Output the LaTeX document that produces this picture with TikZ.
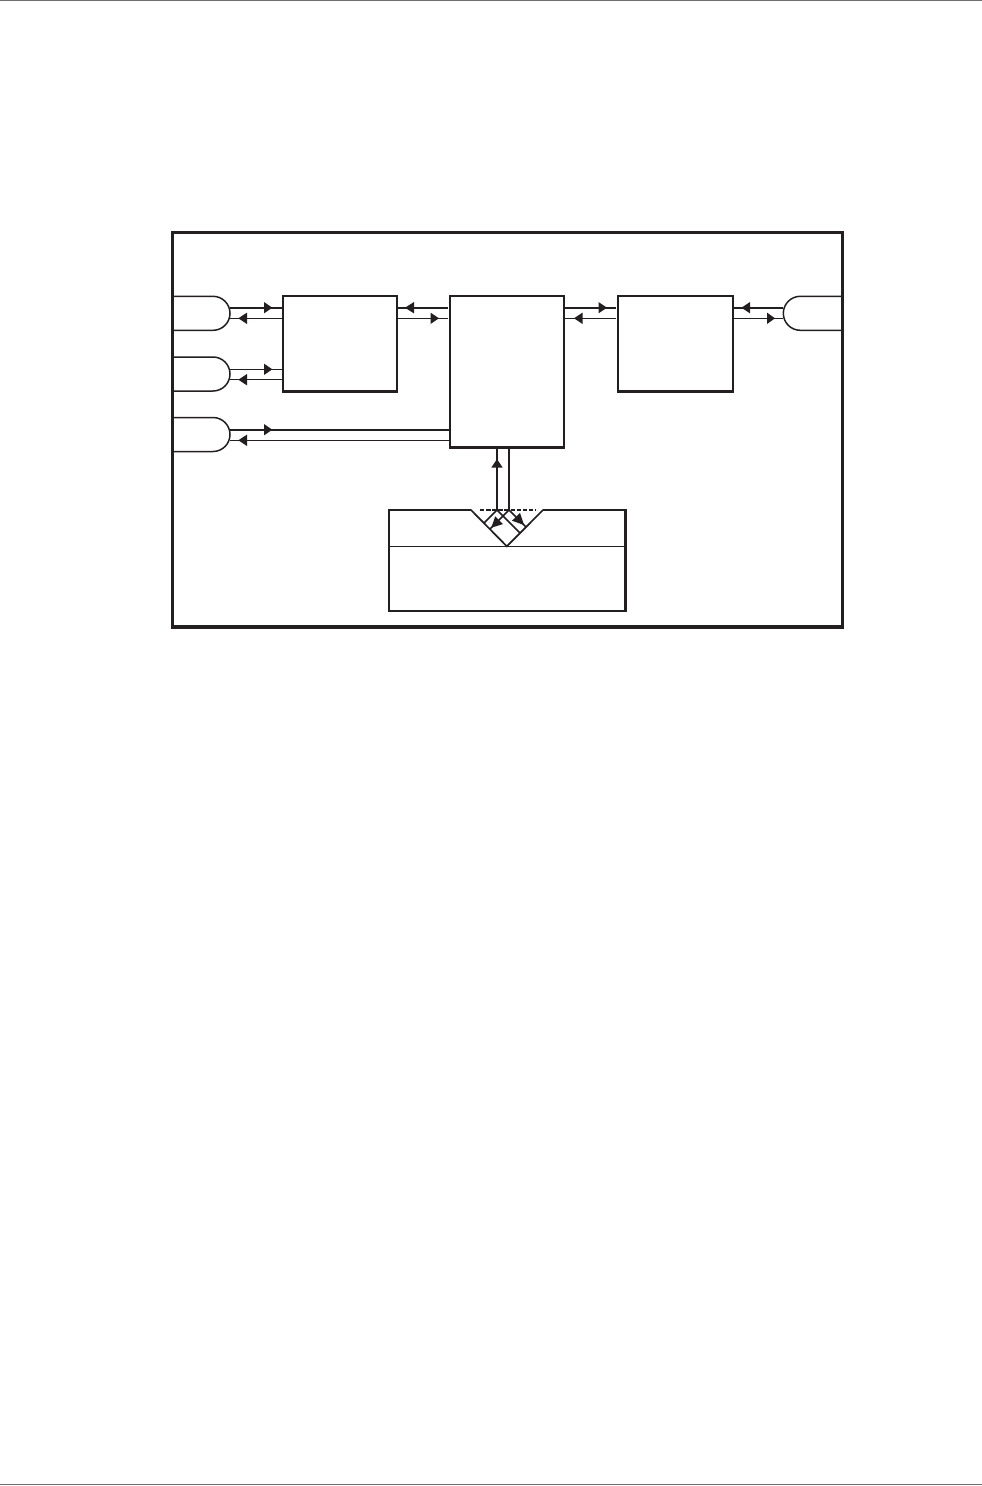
\documentclass[tikz,border=0pt]{standalone}
\usetikzlibrary{arrows.meta}
\definecolor{ink}{HTML}{231F20}
\definecolor{rulegray}{HTML}{6D6E71}
\tikzset{
  x=1pt,y=-1pt,
  frame/.style={draw=ink,line width=3.2pt},
  blockbox/.style={draw=ink,line width=2.6pt,fill=white,rectangle,inner sep=0pt,outer sep=0pt,anchor=north west},
  anchorbox/.style={rectangle,inner sep=0pt,outer sep=0pt,anchor=north west},
  pillline/.style={draw=ink,line width=1.5pt,fill=white},
  thick line/.style={draw=ink,line width=2.4pt},
  thin line/.style={draw=ink,line width=1.4pt},
  page rule/.style={draw=rulegray,line width=1.2pt},
}
% arrowhead: #1 tip x, #2 base x, #3 y
\newcommand{\hhead}[3]{\fill[ink] (#1,#3) -- (#2,#3-5.7) -- (#2,#3+5.7) -- cycle;}
\begin{document}
\begin{tikzpicture}
\useasboundingbox (0,0) rectangle (982,1486);
\fill[white] (0,0) rectangle (982,1486);
\coordinate (ruleTopL) at (0,0.7);
\coordinate (ruleTopR) at (982,0.7);
\coordinate (ruleBotL) at (0,1484.5);
\coordinate (ruleBotR) at (982,1484.5);
\draw[page rule] (ruleTopL) -- (ruleTopR);
\draw[page rule] (ruleBotL) -- (ruleBotR);

% pills
\node[anchorbox,minimum width=57pt,minimum height=34pt] (pillA) at (173,296.3) {};
\node[anchorbox,minimum width=57pt,minimum height=34pt] (pillB) at (173,357) {};
\node[anchorbox,minimum width=57pt,minimum height=34pt] (pillC) at (173,417.5) {};
\node[anchorbox,minimum width=60pt,minimum height=34pt] (pillD) at (783.3,296.3) {};
\foreach \p in {pillA,pillB,pillC}{
  \draw[pillline] (\p.north west) -- ++(40,0) arc[start angle=90,end angle=0,x radius=17pt,y radius=17pt]
     arc[start angle=0,end angle=-90,x radius=17pt,y radius=17pt] -- (\p.south west);
}
\draw[pillline] (pillD.north east) -- ++(-43,0) arc[start angle=90,end angle=180,x radius=17pt,y radius=17pt]
     arc[start angle=180,end angle=270,x radius=17pt,y radius=17pt] -- (pillD.south east);

% blocks
\node[blockbox,minimum width=114pt,minimum height=95.7pt] (boxA) at (283,296) {};
\node[blockbox,minimum width=114pt,minimum height=151.7pt] (boxB) at (450,296) {};
\node[blockbox,minimum width=115pt,minimum height=95.7pt] (boxC) at (618,296) {};
\node[blockbox,minimum width=236.5pt,minimum height=101pt] (boxD) at (388.8,510) {};

% horizontal connectors
\draw[thick line] (pillA.east |- 0,307.7) -- (boxA.west |- 0,307.7);
\draw[thin line] (pillA.east |- 0,318.3) -- (boxA.west |- 0,318.3);
\draw[thin line] (pillB.east |- 0,369.3) -- (boxA.west |- 0,369.3);
\draw[thin line] (pillB.east |- 0,379.7) -- (boxA.west |- 0,379.7);
\draw[thick line] (pillC.east |- 0,429.7) -- (boxB.west |- 0,429.7);
\draw[thin line] (pillC.east |- 0,440.3) -- (boxB.west |- 0,440.3);
\coordinate (gapAB) at (448,307.7);
\coordinate (gapABb) at (448,318.3);
\coordinate (gapBC) at (616,307.7);
\coordinate (gapBCb) at (616,318.3);
\draw[thick line] (boxA.east |- gapAB) -- (gapAB);
\draw[thin line] (boxA.east |- gapABb) -- (gapABb);
\draw[thick line] (boxB.east |- gapBC) -- (gapBC);
\draw[thin line] (boxB.east |- gapBCb) -- (gapBCb);
\draw[thick line] (boxC.east |- 0,307.7) -- (pillD.west |- 0,307.7);
\draw[thin line] (boxC.east |- 0,318.3) -- (pillD.west |- 0,318.3);

% heads
\hhead{272.3}{264}{307.7}\hhead{238.3}{247}{318.3}
\hhead{272.3}{264}{369.3}\hhead{238.3}{247}{379.7}
\hhead{272.3}{264}{429.7}\hhead{238.3}{247}{440.3}
\hhead{405}{414}{307.7}\hhead{439}{430.5}{318.3}
\hhead{607}{598.5}{307.7}\hhead{574}{582.5}{318.3}
\hhead{741.5}{750}{307.7}\hhead{775}{767}{318.3}

% top edge of lower block interrupted by the prism
\coordinate (vL) at (471,510);
\coordinate (vR) at (543,510);
\coordinate (vB) at (506.8,546.3);
\coordinate (dL) at (480,510);
\coordinate (dR) at (535,510);
\draw[draw=white,line width=3.2pt] (vL) -- (vR);
\draw[ink,line width=2pt,dash pattern=on 4.4pt off 1.7pt] (dL) -- (dR);
\draw[thin line] (boxD.west |- vB) -- (boxD.east |- vB);
\draw[ink,line width=1.7pt,line cap=round] (vL) -- (vB) -- (vR);

% vertical connectors
\coordinate (inA) at (497,510);
\coordinate (inB) at (509,510);
\draw[thick line] (inA) -- (inA |- boxB.south);
\draw[ink,line width=1.9pt] (inB) -- (inB |- boxB.south);
\fill[ink] (497,459) -- (491.4,467.5) -- (502.6,467.5) -- cycle;

% reflected rays
\coordinate (rA) at (484,523);
\coordinate (rB) at (520,533);
\coordinate (rC) at (490,529);
\coordinate (rD) at (526,527);
\draw[ink,line width=1.6pt] (rA) -- (inA) -- (rB);
\draw[ink,line width=1.6pt] (rC) -- (inB) -- (rD);
\fill[ink] (491.3,527.7) -- (495.2,516.3) -- (503,524.1) -- cycle;
\fill[ink] (524,525) -- (512,520.7) -- (520,512.9) -- cycle;

% outer frame
\coordinate (fTL) at (172.5,232.5);
\coordinate (fBR) at (842.8,627);
\draw[frame] (fTL) rectangle (fBR);
\end{tikzpicture}
\end{document}
